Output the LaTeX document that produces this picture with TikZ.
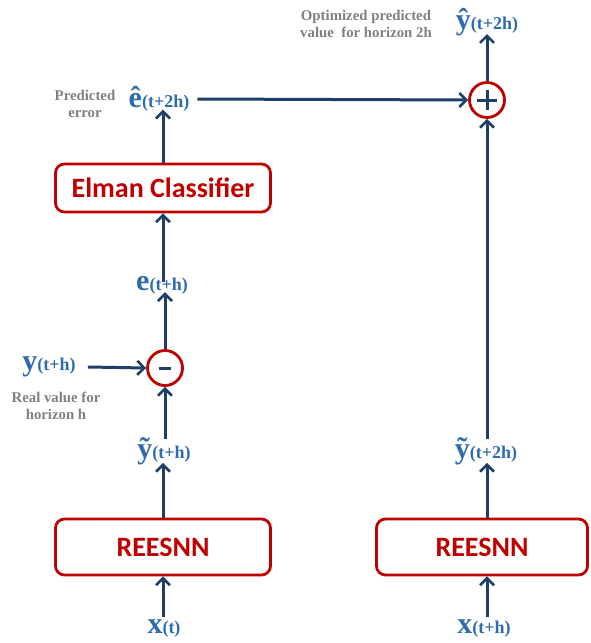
\documentclass[tikz,border=0pt]{standalone}
\usepackage{fontspec}
\setmainfont{Liberation Serif}
\newfontfamily\boxfont{Carlito}
\usetikzlibrary{arrows.meta}
\definecolor{navy}{HTML}{1F3F66}
\definecolor{lblue}{HTML}{2F6CA8}
\definecolor{boxred}{HTML}{C00000}
\definecolor{txtgray}{HTML}{808080}
\tikzset{
  conn/.style={draw=navy, line width=3pt, -{Straight Barb[length=7pt,width=14pt,line width=2.6pt]}},
  procbox/.style={draw=boxred, line width=2.8pt, rounded corners=9pt, fill=white, font=\boxfont\bfseries\fontsize{28}{30}\selectfont, text=boxred},
  opcirc/.style={circle, draw=boxred, line width=2.8pt, fill=white, minimum size=35pt, inner sep=0pt},
  varlbl/.style={text=lblue, font=\bfseries, inner sep=0pt},
  note/.style={text=txtgray, font=\bfseries\fontsize{14.8}{17}\selectfont, align=center, inner sep=0pt}
}
\newcommand{\bigv}[1]{{\fontsize{30}{30}\selectfont #1}}
\newcommand{\smv}[1]{{\fontsize{18}{18}\selectfont #1}}
\begin{document}
\begin{tikzpicture}[x=1pt,y=-1pt]
\useasboundingbox (0,0) rectangle (590,643);
% bottom inputs
\node[varlbl] (xt) at (164,629) {\bigv{x}\smv{(t)}};
\node[varlbl] (xth) at (484,629) {\bigv{x}\smv{(t+h)}};
% boxes
\node[procbox, minimum width=215pt, minimum height=56pt] (r1) at (163,547) {REESNN};
\node[procbox, minimum width=211pt, minimum height=56pt] (r2) at (482,547) {REESNN};
% tilde labels
\node[varlbl] (yt1) at (164,451) {\bigv{ỹ}\smv{(t+h)}};
\node[varlbl] (yt2) at (486,451) {\bigv{ỹ}\smv{(t+2h)}};
% minus
\node[opcirc] (minus) at (165,368) {};
\draw[navy, line width=3pt] ([xshift=-6pt]minus.center) -- ([xshift=6pt]minus.center);
\node[varlbl] (yr) at (49,367) {\bigv{y}\smv{(t+h)}};
\node[note] (realnote) at (56,406) {Real value for\\horizon h};
% e
\node[varlbl] (e) at (162,285) {\bigv{e}\smv{(t+h)}};
% elman
\node[procbox, minimum width=215pt, minimum height=48pt] (elman) at (163,188) {Elman Classifier};
% ehat
\node[varlbl] (eh) at (159,99) {\bigv{ê}\smv{(t+2h)}};
\node[note] (prednote) at (85,104) {Predicted\\error};
% plus
\node[opcirc] (plus) at (487,100) {};
\draw[navy, line width=3pt] ([xshift=-10pt]plus.center) -- ([xshift=10pt]plus.center);
\draw[navy, line width=3pt] ([yshift=-10pt]plus.center) -- ([yshift=10pt]plus.center);
% yhat
\node[varlbl] (yh) at (487,22) {\bigv{ŷ}\smv{(t+2h)}};
\node[note] (optnote) at (366,24) {Optimized predicted\\value\ \ for horizon 2h};
% column coordinates
\coordinate (c1) at (r1.south);
\coordinate (c2) at (plus.center);
% connectors
\draw[conn] ([yshift=3pt]c1 |- xt.north) -- (r1.south);
\draw[conn] ([yshift=3pt]c2 |- xth.north) -- (c2 |- r2.south);
\draw[conn] (r1.north) -- ([yshift=2pt]c1 |- yt1.south);
\draw[conn] (c2 |- r2.north) -- ([yshift=2pt]c2 |- yt2.south);
\draw[conn] ([yshift=-2pt]minus.center |- yt1.north) -- (minus.south);
\draw[conn] ([xshift=12pt]yr.east) -- (minus.west);
\draw[conn] (minus.north) -- ([yshift=2pt]minus.center |- e.south);
\draw[conn] ([yshift=-6pt]c1 |- e.north) -- (elman.south);
\draw[conn] (elman.north) -- ([yshift=2pt]c1 |- eh.south);
\draw[conn] ([xshift=8pt]eh.east) -- (plus.west);
\draw[conn] ([yshift=-2pt]c2 |- yt2.north) -- (plus.south);
\draw[conn] (plus.north) -- ([yshift=2pt]c2 |- yh.south);
\end{tikzpicture}
\end{document}
